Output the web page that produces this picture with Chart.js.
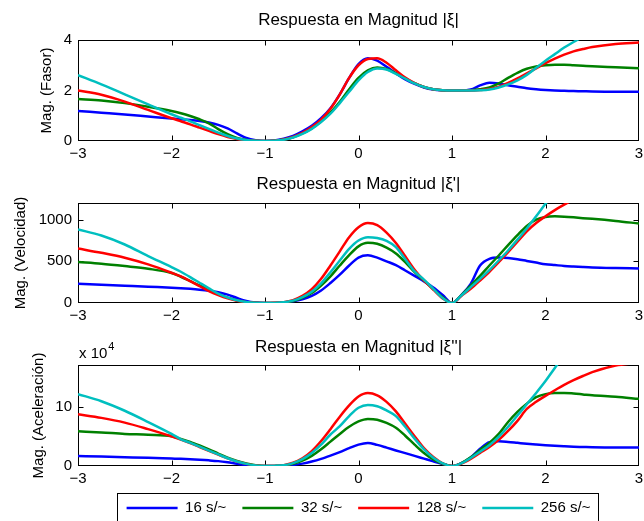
<!DOCTYPE html>
<html>
<head>
<meta charset="utf-8">
<script src="https://cdn.jsdelivr.net/npm/chart.js@4/dist/chart.umd.min.js"></script>
<style>
  html, body { margin: 0; padding: 0; background: #fff; overflow: hidden; }
  #wrap { position: relative; width: 644px; height: 521px; }
  canvas { position: absolute; left: 0; }
</style>
</head>
<body>
<div id="wrap">
  <canvas id="c1" width="644" height="165" style="top:0"></canvas>
  <canvas id="c2" width="644" height="165" style="top:165px"></canvas>
  <canvas id="c3" width="644" height="191" style="top:330px"></canvas>
</div>
<script>
// Respuesta en magnitud - three stacked panels sharing the x grid

const LABELS = ['16 s/~', '32 s/~', '128 s/~', '256 s/~'];
const COLORS = ['#0000ff', '#008000', '#ff0000', '#00bfbf'];

// shared x grid (coarser at the far left)
const X = [-3, -2.75, -2.5, -2.25, -2,
  -1.9, -1.8, -1.7, -1.6, -1.5, -1.4, -1.3, -1.2, -1.1, -1,
  -0.9, -0.8, -0.7, -0.6, -0.5, -0.4, -0.3, -0.2, -0.1, 0,
  0.1, 0.2, 0.3, 0.4, 0.5, 0.6, 0.7, 0.8, 0.9, 1,
  1.1, 1.2, 1.3, 1.4, 1.5, 1.6, 1.7, 1.8, 1.9, 2,
  2.1, 2.2, 2.3, 2.4, 2.5, 2.75, 3];

const X_TICKS = [-3, -2, -1, 0, 1, 2, 3];
const FASOR_TICKS = [0, 2, 4];
const VEL_TICKS = [0, 500, 1000];
const ACC_TICKS = [0, 10];   // x 10^4

// |xi|
const FASOR_16 = [1.19, 1.12, 1.05, 0.97, 0.89,
  0.86, 0.83, 0.79, 0.73, 0.64, 0.50, 0.30, 0.12, 0.03, 0,
  0.02, 0.09, 0.20, 0.38, 0.60, 0.90, 1.30, 1.85, 2.50, 3.05,
  3.28, 3.18, 2.94, 2.68, 2.44, 2.26, 2.12, 2.04, 2.01, 2.00,
  2.00, 2.04, 2.20, 2.31, 2.28, 2.21, 2.15, 2.09, 2.05, 2.02,
  2.00, 1.99, 1.98, 1.97, 1.96, 1.95, 1.95];
const FASOR_32 = [1.66, 1.60, 1.50, 1.36, 1.19,
  1.10, 0.99, 0.86, 0.70, 0.47, 0.27, 0.12, 0.04, 0.01, 0,
  0.01, 0.06, 0.15, 0.30, 0.50, 0.78, 1.12, 1.55, 2.05, 2.50,
  2.80, 2.91, 2.85, 2.68, 2.48, 2.29, 2.14, 2.05, 2.01, 2.00,
  2.00, 2.01, 2.05, 2.12, 2.28, 2.50, 2.70, 2.86, 2.95, 3.00,
  3.02, 3.02, 3.00, 2.98, 2.96, 2.92, 2.88];
const FASOR_128 = [2.00, 1.83, 1.56, 1.23, 0.90,
  0.78, 0.66, 0.53, 0.40, 0.27, 0.16, 0.08, 0.03, 0.01, 0,
  0.01, 0.06, 0.16, 0.32, 0.55, 0.85, 1.28, 1.85, 2.50, 3.00,
  3.25, 3.28, 3.10, 2.80, 2.51, 2.29, 2.14, 2.05, 2.01, 2.00,
  2.00, 2.00, 2.02, 2.06, 2.15, 2.30, 2.48, 2.68, 2.88, 3.08,
  3.26, 3.42, 3.55, 3.64, 3.72, 3.84, 3.90];
const FASOR_256 = [2.61, 2.24, 1.85, 1.45, 1.06,
  0.92, 0.78, 0.63, 0.48, 0.33, 0.20, 0.10, 0.04, 0.01, 0,
  0.01, 0.05, 0.14, 0.28, 0.48, 0.75, 1.08, 1.50, 1.95, 2.40,
  2.73, 2.87, 2.83, 2.66, 2.47, 2.28, 2.14, 2.05, 2.01, 2.00,
  2.00, 2.00, 2.01, 2.04, 2.12, 2.24, 2.40, 2.62, 2.90, 3.18,
  3.44, 3.70, 3.92, 4.12, 4.30, 4.70, 5.00];

// |xi'|
const VEL_16 = [231, 219, 207, 195, 184,
  178, 170, 160, 147, 128, 100, 60, 25, 6, 0,
  1, 6, 20, 45, 85, 150, 240, 340, 450, 545,
  572, 545, 500, 455, 390, 325, 260, 185, 95, 0,
  95, 230, 450, 530, 545, 540, 525, 505, 485, 465,
  455, 445, 438, 432, 427, 420, 415];
const VEL_32 = [491, 471, 443, 411, 360,
  315, 263, 211, 156, 104, 64, 30, 10, 2, 0,
  1, 7, 25, 62, 120, 210, 320, 450, 575, 680,
  722, 710, 665, 595, 490, 370, 270, 165, 70, 0,
  95, 210, 325, 450, 570, 695, 815, 925, 1000, 1033,
  1040, 1036, 1028, 1018, 1010, 985, 954];
const VEL_128 = [654, 602, 543, 463, 363,
  319, 263, 203, 144, 96, 56, 28, 10, 2, 0,
  2, 10, 35, 85, 165, 290, 450, 620, 790, 910,
  960, 935, 845, 720, 560, 400, 270, 160, 55, 0,
  85, 170, 270, 375, 490, 610, 735, 860, 960, 1041,
  1115, 1180, 1240, 1290, 1330, 1400, 1440];
const VEL_256 = [882, 810, 702, 563, 431,
  375, 311, 243, 176, 112, 64, 32, 12, 3, 0,
  1, 8, 28, 70, 135, 235, 370, 510, 650, 750,
  790, 780, 745, 670, 525, 380, 280, 170, 60, 0,
  90, 190, 290, 395, 510, 630, 760, 895, 1040, 1190,
  1330, 1460, 1580, 1690, 1790, 2000, 2180];

// |xi''| in units of 10^4
const ACC_16 = [1.67, 1.58, 1.48, 1.38, 1.25,
  1.20, 1.13, 1.05, 0.95, 0.82, 0.62, 0.38, 0.17, 0.04, 0,
  0.01, 0.05, 0.18, 0.40, 0.75, 1.20, 1.75, 2.35, 3.00, 3.60,
  3.88, 3.55, 3.10, 2.62, 2.17, 1.70, 1.24, 0.78, 0.35, 0,
  0.50, 1.45, 2.90, 4.00, 4.15, 4.05, 3.90, 3.75, 3.62, 3.50,
  3.40, 3.32, 3.25, 3.20, 3.15, 3.10, 3.10];
const ACC_32 = [5.85, 5.65, 5.40, 5.25, 5.00,
  4.55, 4.05, 3.45, 2.80, 2.10, 1.42, 0.85, 0.42, 0.12, 0,
  0.02, 0.10, 0.38, 0.90, 1.70, 2.80, 4.10, 5.40, 6.60, 7.50,
  7.92, 7.80, 7.25, 6.45, 5.10, 3.60, 2.20, 1.10, 0.38, 0,
  0.50, 1.45, 2.70, 3.90, 5.40, 7.40, 9.10, 10.50, 11.60, 12.10,
  12.30, 12.30, 12.20, 12.05, 11.90, 11.65, 11.30];
const ACC_128 = [8.70, 8.10, 7.30, 6.20, 5.00,
  4.45, 3.85, 3.20, 2.55, 1.90, 1.28, 0.75, 0.36, 0.10, 0,
  0.02, 0.15, 0.55, 1.30, 2.50, 4.20, 6.20, 8.30, 10.20, 11.70,
  12.28, 11.90, 10.80, 9.20, 7.10, 5.00, 3.00, 1.50, 0.45, 0,
  0.40, 1.20, 2.20, 3.20, 4.40, 5.90, 7.60, 9.60, 10.80, 11.80,
  12.75, 13.65, 14.45, 15.15, 15.80, 16.90, 17.40];
const ACC_256 = [12.10, 10.90, 9.30, 7.40, 5.40,
  4.50, 3.90, 3.25, 2.60, 1.95, 1.30, 0.76, 0.36, 0.10, 0,
  0.02, 0.13, 0.48, 1.15, 2.20, 3.60, 5.30, 6.70, 8.40, 9.80,
  10.28, 10.05, 9.35, 8.40, 6.60, 4.60, 2.80, 1.40, 0.45, 0,
  0.45, 1.35, 2.40, 3.50, 4.90, 6.60, 8.50, 10.40, 12.30, 14.30,
  16.50, 18.60, 20.60, 22.60, 24.50, 29.00, 33.00];

Chart.defaults.font.family = '"Liberation Sans", Arial, Helvetica, sans-serif';
Chart.defaults.color = '#000';

const FONT = 15;
const LEGEND_Y = 178;   // centre of legend row inside the third canvas
const LEGEND_H = 29;    // room the legend takes in the layout

function fmtX(v) {
    return v < 0 ? '\u2212' + (-v) : String(v);
}

// box round the axes with inward ticks on all four sides
const framePlugin = {
    id: 'frame',
    beforeDatasetsDraw(chart) {
        const { ctx, chartArea: a, scales: { x, y } } = chart;
        const l = Math.round(a.left) + 0.5, r = Math.round(a.right) - 0.5;
        const t = Math.round(a.top) + 0.5, b = Math.round(a.bottom) - 0.5;
        ctx.save();
        ctx.strokeStyle = '#000';
        ctx.lineWidth = 1;
        ctx.strokeRect(l, t, r - l, b - t);
        ctx.beginPath();
        x.ticks.forEach(tk => {
            if (tk.value <= x.min || tk.value >= x.max) return;
            const px = Math.round(x.getPixelForValue(tk.value)) + 0.5;
            ctx.moveTo(px, b); ctx.lineTo(px, b - 5);
            ctx.moveTo(px, t); ctx.lineTo(px, t + 5);
        });
        y.ticks.forEach(tk => {
            if (tk.value <= y.min || tk.value >= y.max) return;
            const py = Math.round(y.getPixelForValue(tk.value)) + 0.5;
            ctx.moveTo(l, py); ctx.lineTo(l + 5, py);
            ctx.moveTo(r, py); ctx.lineTo(r - 5, py);
        });
        ctx.stroke();
        ctx.restore();
    }
};

// legend centred under the axes, with a box round it
const legendPlugin = {
    id: 'legendBox',
    beforeLayout(chart) {
        const lg = chart.legend;
        if (lg && !lg._fixedFit) {
            const fit = lg.fit;
            lg.fit = function () { fit.call(this); this.height = LEGEND_H; };
            lg._fixedFit = true;
        }
    },
    afterLayout(chart) {
        const lg = chart.legend;
        if (!lg || !lg.options.display) return;
        const a = chart.chartArea;
        const dx = (a.left + a.right) / 2 - (lg.left + lg.right) / 2;
        const dy = LEGEND_Y - (lg.top + lg.options.labels.padding + FONT / 2);
        lg.left += dx; lg.right += dx;
        lg.top += dy; lg.bottom += dy;
    },
    afterDraw(chart) {
        const lg = chart.legend;
        const pad = lg.options.labels.padding;
        const x0 = (lg.left + pad + lg.right - lg.lineWidths[0]) / 2;
        const x1 = x0 + lg.lineWidths[0] - pad;
        const ctx = chart.ctx;
        ctx.save();
        ctx.strokeStyle = '#000';
        ctx.lineWidth = 1;
        ctx.strokeRect(Math.round(x0 - 10) + 0.5, Math.round(LEGEND_Y - 15) + 0.5,
            Math.round(x1 - x0 + 17), 60);
        ctx.restore();
    }
};

// "x 10^4" multiplier above the third panel
const expoPlugin = {
    id: 'expo',
    afterDraw(chart) {
        const { ctx, chartArea: a } = chart;
        ctx.save();
        ctx.fillStyle = '#000';
        ctx.textBaseline = 'alphabetic';
        ctx.font = FONT + 'px ' + Chart.defaults.font.family;
        ctx.fillText('x 10', a.left + 1, a.top - 7);
        const w = ctx.measureText('x 10').width;
        ctx.font = '11px ' + Chart.defaults.font.family;
        ctx.fillText('4', a.left + 2 + w, a.top - 15);
        ctx.restore();
    }
};

function makeChart(id, series, yTicks, yMax, yTitle, title, cfg) {
    const datasets = series.map((s, i) => ({
        label: LABELS[i],
        data: X.map((x, j) => ({ x: x, y: s[j] })),
        borderColor: COLORS[i],
        backgroundColor: COLORS[i],
        borderWidth: 2.5,
        pointRadius: 0,
        cubicInterpolationMode: 'monotone',
        order: series.length - i
    }));

    const plugins = [framePlugin];
    if (cfg.legend) plugins.push(legendPlugin, expoPlugin);

    return new Chart(document.getElementById(id), {
        type: 'line',
        data: { datasets },
        plugins,
        options: {
            responsive: false,
            animation: false,
            devicePixelRatio: 1,
            layout: { padding: { left: cfg.padLeft, right: 5, top: 0, bottom: 0 } },
            scales: {
                x: {
                    type: 'linear',
                    min: -3,
                    max: 3,
                    afterBuildTicks: s => { s.ticks = X_TICKS.map(v => ({ value: v })); },
                    afterFit: s => {
                        s.height = cfg.xHeight;
                        s.paddingLeft = 0;
                        s.paddingRight = 0;
                    },
                    grid: { display: false, drawTicks: false },
                    border: { display: false },
                    ticks: {
                        font: { size: FONT },
                        padding: 4,
                        maxRotation: 0,
                        autoSkip: false,
                        callback: v => fmtX(v)
                    }
                },
                y: {
                    type: 'linear',
                    min: 0,
                    max: yMax,
                    afterBuildTicks: s => { s.ticks = yTicks.map(v => ({ value: v })); },
                    afterFit: s => { s.width = cfg.yWidth; },
                    grid: { display: false, drawTicks: false },
                    border: { display: false },
                    ticks: { font: { size: FONT }, padding: 6, callback: v => String(v) },
                    title: { display: true, text: yTitle, font: { size: FONT }, padding: 0 }
                }
            },
            plugins: {
                title: {
                    display: true,
                    text: title,
                    fullSize: false,
                    font: { size: 17, weight: 'normal' },
                    padding: cfg.titlePad
                },
                legend: cfg.legend ? {
                    display: true,
                    position: 'bottom',
                    labels: {
                        usePointStyle: true,
                        pointStyle: 'line',
                        pointStyleWidth: 51,
                        font: { size: FONT },
                        padding: 16,
                        sort: (a, b) => a.datasetIndex - b.datasetIndex
                    }
                } : { display: false },
                tooltip: { enabled: false }
            }
        }
    });
}

makeChart('c1', [FASOR_16, FASOR_32, FASOR_128, FASOR_256], FASOR_TICKS, 4,
    'Mag. (Fasor)', 'Respuesta en Magnitud |\u03be|',
    { padLeft: 38, yWidth: 40, titlePad: { top: 9.8, bottom: 9.8 }, xHeight: 24 });

makeChart('c2', [VEL_16, VEL_32, VEL_128, VEL_256], VEL_TICKS, 1200,
    'Mag. (Velocidad)', "Respuesta en Magnitud |\u03be'|",
    { padLeft: 12, yWidth: 66, titlePad: { top: 8.8, bottom: 8.8 }, xHeight: 27 });

makeChart('c3', [ACC_16, ACC_32, ACC_128, ACC_256], ACC_TICKS, 17,
    'Mag. (Aceleraci\u00f3n)', "Respuesta en Magnitud |\u03be''|",
    { padLeft: 30, yWidth: 48, titlePad: { top: 6.8, bottom: 7.8 }, xHeight: 26, legend: true });
</script>
</body>
</html>
